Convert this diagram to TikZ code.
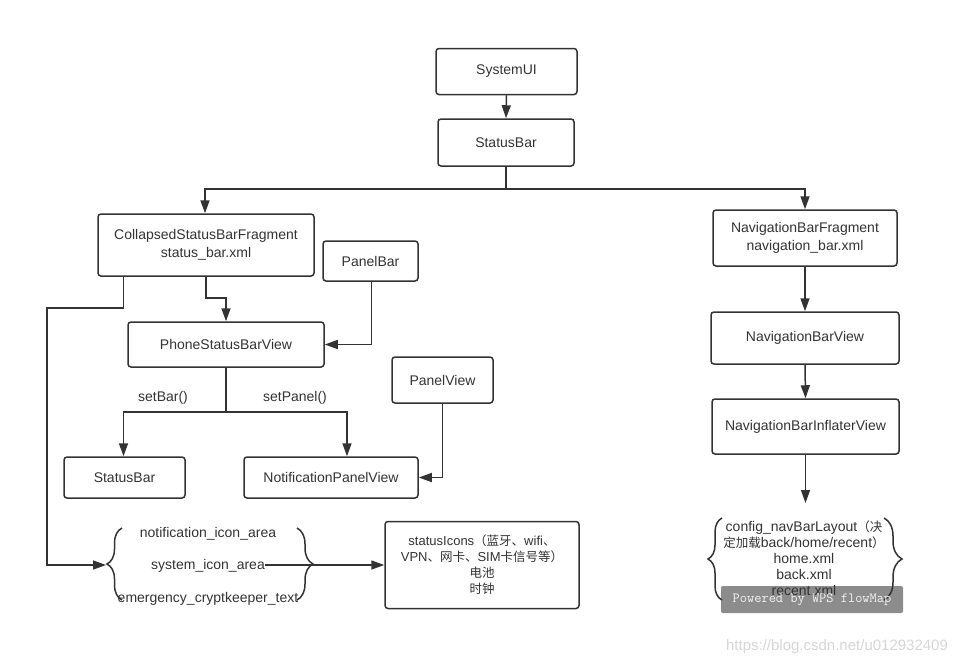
\documentclass[tikz,border=0pt]{standalone}
\usepackage{fontspec}
\setmainfont{Liberation Sans}
\newfontfamily\cjk{Noto Sans CJK SC}
\usetikzlibrary{arrows.meta,decorations.pathreplacing,calc}
\definecolor{ln}{HTML}{333333}
\definecolor{wm}{HTML}{808080}
\definecolor{url}{HTML}{D6D6D6}
\newcommand\cj[1]{{\cjk\fontsize{12.5}{15.5}\selectfont #1}}
\begin{document}
\begin{tikzpicture}[x=1pt,y=-1pt,
  box/.style={draw=ln, line width=1.5pt, rounded corners=3pt, align=center,
    font=\fontsize{14}{18}\selectfont, text=ln, inner sep=0pt},
  arr/.style={draw=ln, line width=1.5pt, -{Triangle[length=13pt,width=9pt]}},
  plain/.style={draw=ln, line width=1.5pt},
  lbl/.style={font=\fontsize{14}{16}\selectfont, text=ln, inner sep=0pt},
  curly/.style={draw=ln, line width=1.5pt, decorate, decoration={brace, amplitude=#1}}
]
\useasboundingbox (0,0) rectangle (963,667);

% watermark box (under the diagram lines)
\node[fill=wm, fill opacity=0.9, rounded corners=2pt, minimum width=182pt, minimum height=27pt, inner sep=0pt] (wps) at (812,599.5) {};

% boxes
\node[box, minimum width=141pt, minimum height=46pt] (sysui) at (506.5,71.5) {SystemUI};
\node[box, minimum width=136pt, minimum height=47pt] (sb) at (506,142.5) {StatusBar};
\node[box, minimum width=216pt, minimum height=62pt] (csbf) at (206,245) {CollapsedStatusBarFragment\\status\_bar.xml};
\node[box, minimum width=95pt, minimum height=40pt] (panelbar) at (370.5,261) {PanelBar};
\node[box, minimum width=196pt, minimum height=45pt] (psbv) at (226,344.5) {PhoneStatusBarView};
\node[box, minimum width=121pt, minimum height=41pt] (sb2) at (124.5,477.5) {StatusBar};
\node[box, minimum width=174pt, minimum height=41pt] (npv) at (331,477.5) {NotificationPanelView};
\node[box, minimum width=101pt, minimum height=46pt] (panelview) at (442.5,380) {PanelView};
\node[box, minimum width=194pt, minimum height=87pt, font=\fontsize{13}{16}\selectfont] (statusicons) at (482,565)
  {statusIcons\cj{（蓝牙、}wifi\cj{、}\\VPN\cj{、网卡、}SIM\cj{卡信号等）}\\\cj{电池}\\\cj{时钟}};
\node[box, minimum width=184pt, minimum height=56pt] (nbf) at (805,238) {NavigationBarFragment\\navigation\_bar.xml};
\node[box, minimum width=188pt, minimum height=52pt] (nbv) at (805,338) {NavigationBarView};
\node[box, minimum width=187pt, minimum height=55pt] (nbiv) at (805.5,426.5) {NavigationBarInflaterView};

% left brace group texts
\node[lbl, anchor=base] (notif) at (208,537) {notification\_icon\_area};
\node[lbl, anchor=base] (sysicon) at (208,569) {system\_icon\_area};
\node[lbl, anchor=base] (emerg) at (208,602) {emergency\_cryptkeeper\_text};
\draw[curly=15pt] (122,600) -- (122,528);
\draw[curly=16pt] (297,528) -- (297,600);
\coordinate (ltip) at (106,565);

% right brace group text
\node[lbl, align=center, font=\fontsize{14}{16}\selectfont] (navtext) at (804,558)
  {config\_navBarLayout\cj{（决}\\\cj{定加载}back/home/recent\cj{）}\\home.xml\\back.xml\\recent.xml};
\draw[curly=14pt] (722,600) -- (722,518);
\draw[curly=18pt] (884,518) -- (884,600);
\coordinate (navtop) at (805.5,503);

% labels
\node[lbl] (setbar) at (163,398) {setBar()};
\node[lbl] (setpanel) at (295,398) {setPanel()};

% connectors
\coordinate (split1) at (506,189);
\draw[arr] (sysui.south) -- (sb.north);
\draw[plain] (sb.south) -- (split1);
\draw[arr] (split1) -| ([xshift=-1pt]csbf.north);
\draw[arr] (split1) -| (nbf.north);

\coordinate (j1) at (206,298);
\draw[arr] (csbf.south) -- (j1) -| (psbv.north);
\coordinate (c1) at (47,308);
\draw[arr] ([xshift=26pt]csbf.south west) |- (c1) |- (ltip);
\draw[arr] ([xshift=1pt]panelbar.south) |- (psbv.east);

\coordinate (j2) at (226,412);
\draw[plain] (psbv.south) -- (j2);
\draw[arr] (j2) -| ([xshift=-1pt]sb2.north);
\draw[arr] (j2) -| ([xshift=16pt]npv.north);
\draw[arr] (panelview.south) |- (npv.east);

\draw[arr] (sysicon.east |- statusicons.west) -- (statusicons.west);

\draw[arr] (nbf.south) -- (nbv.north);
\draw[arr] (nbv.south) -- (nbiv.north);
\draw[arr] (nbiv.south) -- (navtop);

% watermark text
\node[text=white!90!gray, font=\ttfamily\fontsize{14}{16}\selectfont, inner sep=0pt] (wpstext) at (812,600) {Powered by WPS flowMap};
\node[text=url, font=\fontsize{15}{17}\selectfont, inner sep=0pt] (urltext) at (837,647) {https://blog.csdn.net/u012932409};
\end{tikzpicture}
\end{document}
